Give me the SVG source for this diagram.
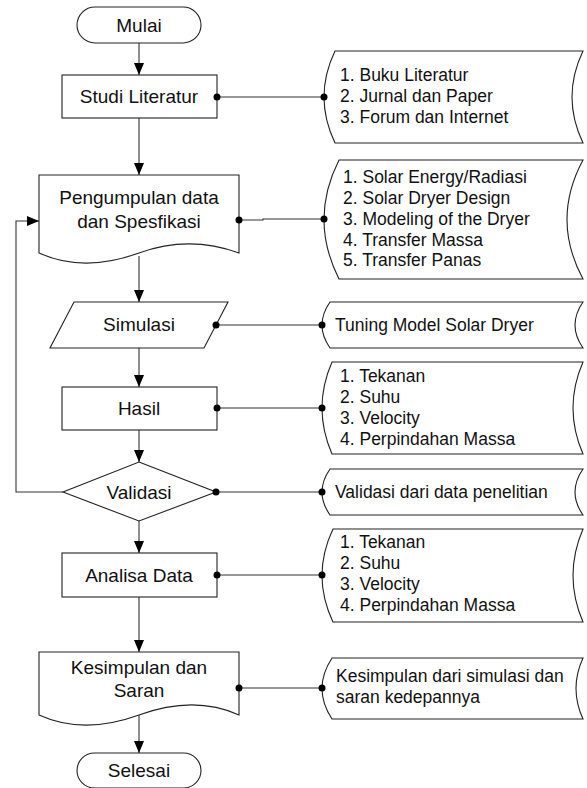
<svg xmlns="http://www.w3.org/2000/svg" width="587" height="788" viewBox="0 0 587 788">
<style>
.sh{fill:#fff;stroke:#222;stroke-width:1.1}
.ln{fill:none;stroke:#333;stroke-width:1.1}
.t{font-family:"Liberation Sans",Arial,sans-serif;font-size:19px;fill:#111;text-anchor:middle}
.l{font-family:"Liberation Sans",Arial,sans-serif;font-size:17.5px;fill:#111}
.dot{fill:#000}
</style>
<defs>
<marker id="arr" markerUnits="userSpaceOnUse" markerWidth="12" markerHeight="12" viewBox="0 0 12 10" refX="12" refY="5" orient="auto">
<path d="M0,0 L12,5 L0,10 Z" fill="#000"/>
</marker>
</defs>
<rect width="587" height="788" fill="#fff"/>

<g id="connectors">
<path class="ln" d="M139,43 V75" marker-end="url(#arr)"/>
<path class="ln" d="M139,118 V175" marker-end="url(#arr)"/>
<path class="ln" d="M139,256 V302" marker-end="url(#arr)"/>
<path class="ln" d="M139,348 V387" marker-end="url(#arr)"/>
<path class="ln" d="M139,430 V462" marker-end="url(#arr)"/>
<path class="ln" d="M139,521 V553" marker-end="url(#arr)"/>
<path class="ln" d="M139,597 V652" marker-end="url(#arr)"/>
<path class="ln" d="M139,715 V753" marker-end="url(#arr)"/>
<path class="ln" d="M63,492 H16 V221 H39" marker-end="url(#arr)"/>
<path class="ln" d="M217,97 H324"/>
<path class="ln" d="M239,220 H263 V219 H324"/>
<path class="ln" d="M216,325 H322"/>
<path class="ln" d="M217,408 H322"/>
<path class="ln" d="M216,492 H322"/>
<path class="ln" d="M217,575 H322"/>
<path class="ln" d="M239,688 H322"/>
</g>

<g id="mulai">
<rect class="sh" x="77" y="7" width="124" height="36" rx="18"/>
<text class="t" x="139" y="32">Mulai</text>
</g>

<g id="studi-literatur">
<rect class="sh" x="62" y="75" width="155" height="43"/>
<text class="t" x="139" y="103">Studi Literatur</text>
<circle class="dot" cx="217" cy="97" r="3.5"/>
</g>

<g id="pengumpulan">
<path class="sh" d="M39,175 H239 V253 C206,241 172,241 139,253 C106,265 72,268 39,253 Z"/>
<text class="t" x="139" y="204">Pengumpulan data</text>
<text class="t" x="139" y="228">dan Spesfikasi</text>
<circle class="dot" cx="239" cy="220" r="3.5"/>
</g>

<g id="simulasi">
<path class="sh" d="M74,302 H228 L204,348 H50 Z"/>
<text class="t" x="139" y="331">Simulasi</text>
<circle class="dot" cx="216" cy="325" r="3.5"/>
</g>

<g id="hasil">
<rect class="sh" x="62" y="387" width="155" height="43"/>
<text class="t" x="139" y="415">Hasil</text>
<circle class="dot" cx="217" cy="408" r="3.5"/>
</g>

<g id="validasi">
<path class="sh" d="M139,462 L216,492 L139,521 L63,492 Z"/>
<text class="t" x="139" y="499">Validasi</text>
<circle class="dot" cx="216" cy="492" r="3.5"/>
</g>

<g id="analisa-data">
<rect class="sh" x="62" y="553" width="155" height="44"/>
<text class="t" x="139" y="582">Analisa Data</text>
<circle class="dot" cx="217" cy="575" r="3.5"/>
</g>

<g id="kesimpulan">
<path class="sh" d="M39,652 H239 V715 C206,700 172,703 139,715 C106,727 72,730 39,715 Z"/>
<text class="t" x="139" y="674">Kesimpulan dan</text>
<text class="t" x="139" y="697">Saran</text>
<circle class="dot" cx="239" cy="688" r="3.5"/>
</g>

<g id="selesai">
<rect class="sh" x="77" y="753" width="124" height="35" rx="17.5"/>
<text class="t" x="139" y="777">Selesai</text>
</g>

<g id="note-literatur">
<path class="sh" d="M335,51 H583 Q561,97 583,143 H335 Q313,97 335,51 Z"/>
<circle class="dot" cx="324" cy="97" r="3.5"/>
<text class="l" x="340" y="81">1. Buku Literatur</text>
<text class="l" x="340" y="102">2. Jurnal dan Paper</text>
<text class="l" x="340" y="123">3. Forum dan Internet</text>
</g>

<g id="note-data">
<path class="sh" d="M339,160 H583 Q551,219.5 583,279 H339 Q309,219.5 339,160 Z"/>
<circle class="dot" cx="324" cy="219" r="3.5"/>
<text class="l" x="343" y="183">1. Solar Energy/Radiasi</text>
<text class="l" x="343" y="204">2. Solar Dryer Design</text>
<text class="l" x="343" y="225">3. Modeling of the Dryer</text>
<text class="l" x="343" y="246">4. Transfer Massa</text>
<text class="l" x="343" y="266">5. Transfer Panas</text>
</g>

<g id="note-simulasi">
<path class="sh" d="M330,302 H583 Q567,325 583,348 H330 Q314,325 330,302 Z"/>
<circle class="dot" cx="322" cy="325" r="3.5"/>
<text class="l" x="335" y="331">Tuning Model Solar Dryer</text>
</g>

<g id="note-hasil">
<path class="sh" d="M332,362 H583 Q563,408 583,454 H332 Q312,408 332,362 Z"/>
<circle class="dot" cx="322" cy="408" r="3.5"/>
<text class="l" x="340" y="382">1. Tekanan</text>
<text class="l" x="340" y="403">2. Suhu</text>
<text class="l" x="340" y="424">3. Velocity</text>
<text class="l" x="340" y="445">4. Perpindahan Massa</text>
</g>

<g id="note-validasi">
<path class="sh" d="M330,469 H583 Q567,492 583,515 H330 Q314,492 330,469 Z"/>
<circle class="dot" cx="322" cy="492" r="3.5"/>
<text class="l" x="335" y="498">Validasi dari data penelitian</text>
</g>

<g id="note-analisa">
<path class="sh" d="M333,529 H583 Q563,575.5 583,622 H333 Q311,575.5 333,529 Z"/>
<circle class="dot" cx="322" cy="575" r="3.5"/>
<text class="l" x="340" y="548">1. Tekanan</text>
<text class="l" x="340" y="569">2. Suhu</text>
<text class="l" x="340" y="590">3. Velocity</text>
<text class="l" x="340" y="611">4. Perpindahan Massa</text>
</g>

<g id="note-kesimpulan">
<path class="sh" d="M332,658 H583 Q569,688.5 583,719 H332 Q312,688.5 332,658 Z"/>
<circle class="dot" cx="322" cy="688" r="3.5"/>
<text class="l" x="336" y="682">Kesimpulan dari simulasi dan</text>
<text class="l" x="336" y="703">saran kedepannya</text>
</g>
</svg>
